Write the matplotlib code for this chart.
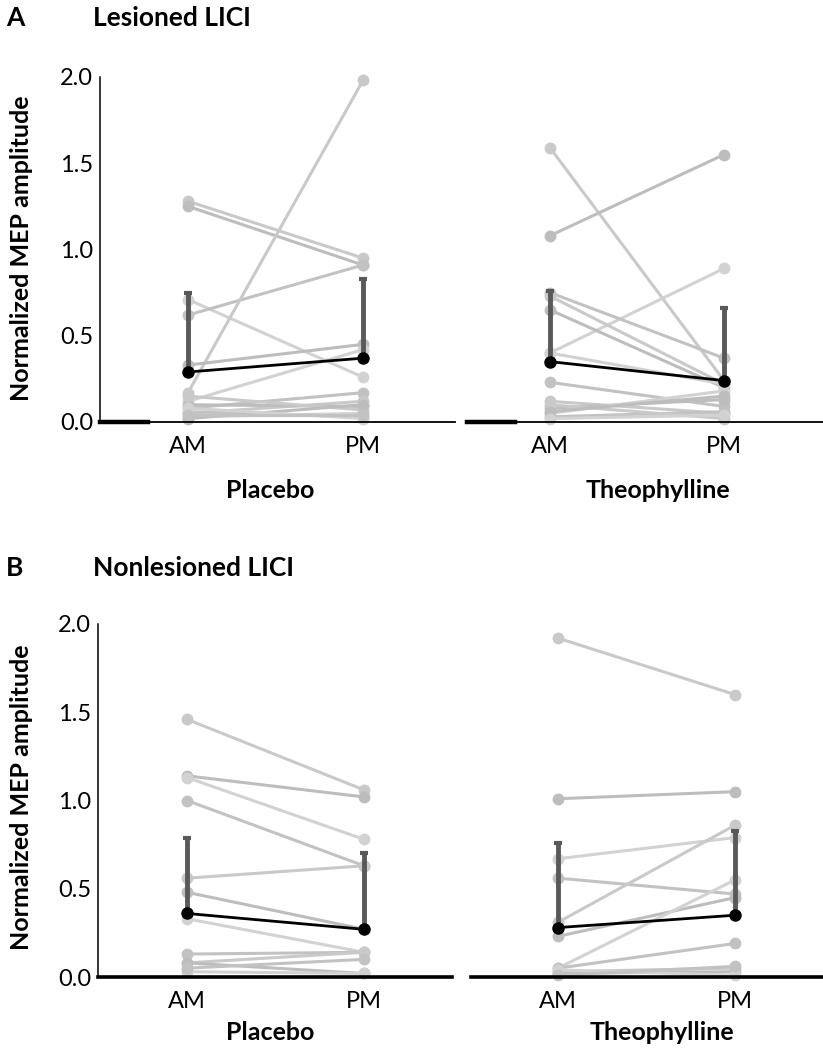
import numpy as np
import matplotlib
matplotlib.use('Agg')
import matplotlib.pyplot as plt

plt.rcParams['font.family'] = ['Lato', 'DejaVu Sans']

sessions = ['AM', 'PM']

# Lesioned LICI, individual subjects (AM, PM)
les_placebo_am = [1.28, 1.25, 0.71, 0.62, 0.17, 0.33, 0.12, 0.08, 0.05, 0.10, 0.03, 0.06, 0.15, 0.02, 0.08, 0.04]
les_placebo_pm = [0.95, 0.91, 0.26, 0.91, 1.98, 0.45, 0.42, 0.17, 0.12, 0.09, 0.05, 0.03, 0.07, 0.10, 0.02, 0.04]
les_theo_am = [1.59, 1.08, 0.40, 0.75, 0.73, 0.65, 0.40, 0.23, 0.12, 0.08, 0.05, 0.03, 0.10, 0.06, 0.02]
les_theo_pm = [0.24, 1.55, 0.89, 0.37, 0.22, 0.20, 0.22, 0.09, 0.05, 0.13, 0.18, 0.06, 0.02, 0.15, 0.04]

# Nonlesioned LICI, individual subjects (AM, PM)
non_placebo_am = [1.46, 1.14, 1.13, 1.00, 0.56, 0.48, 0.33, 0.13, 0.08, 0.08, 0.03, 0.05]
non_placebo_pm = [1.06, 1.02, 0.78, 0.63, 0.63, 0.27, 0.14, 0.14, 0.14, 0.02, 0.02, 0.10]
non_theo_am = [1.92, 1.01, 0.67, 0.56, 0.31, 0.23, 0.05, 0.05, 0.03, 0.02, 0.04, 0.01]
non_theo_pm = [1.60, 1.05, 0.79, 0.47, 0.86, 0.45, 0.55, 0.19, 0.05, 0.03, 0.01, 0.06]

# group means and SD (upper bars only)
les_placebo_mean = [0.29, 0.37]
les_placebo_sd = [0.46, 0.46]
les_theo_mean = [0.35, 0.24]
les_theo_sd = [0.41, 0.42]
non_placebo_mean = [0.36, 0.27]
non_placebo_sd = [0.43, 0.43]
non_theo_mean = [0.28, 0.35]
non_theo_sd = [0.48, 0.48]

W, H = 823, 1050
fig = plt.figure(figsize=(W / 100, H / 100), dpi=100)

grays = ['#c9c9c9', '#bdbdbd', '#d2d2d2', '#c2c2c2']


def make_ax(left, right, top, bottom, am_px, pm_px):
    ax = fig.add_axes([left / W, (H - bottom) / H, (right - left) / W, (bottom - top) / H])
    s = pm_px - am_px
    ax.set_xlim((left - am_px) / s, 1 + (right - pm_px) / s)
    ax.set_ylim(0, 2.0)
    return ax


def draw(ax, am, pm, mean, sd, show_y, thick_axis):
    for i, (a, p) in enumerate(zip(am, pm)):
        c = grays[i % len(grays)]
        ax.plot([0, 1], [a, p], color=c, lw=2.2, marker='o', ms=7.5,
                mec=c, mfc=c, clip_on=False, zorder=2)
    ax.errorbar([0, 1], mean, yerr=[[0, 0], sd], fmt='none', ecolor='#595959',
                elinewidth=3.5, capsize=3, capthick=3, zorder=3)
    ax.plot([0, 1], mean, color='black', lw=2, marker='o', ms=8, zorder=4)
    ax.set_xticks([0, 1])
    ax.set_xticklabels(sessions, fontsize=17)
    ax.set_yticks([0, 0.5, 1.0, 1.5, 2.0])
    ax.set_yticklabels(['0.0', '0.5', '1.0', '1.5', '2.0'], fontsize=17)
    ax.tick_params(axis='x', length=0, pad=10)
    ax.tick_params(axis='y', length=0, pad=5)
    for side in ['top', 'right']:
        ax.spines[side].set_visible(False)
    ax.spines['bottom'].set_linewidth(2.6 if thick_axis else 1.3)
    if show_y:
        ax.spines['left'].set_linewidth(1.1)
    else:
        ax.spines['left'].set_visible(False)
        ax.set_yticks([])
    if not thick_axis:
        ax.axhline(0, xmin=0, xmax=0.135, color='black', lw=3.2, clip_on=False, zorder=5)


# panel A
axA1 = make_ax(100, 455, 77, 422, 188, 363)
draw(axA1, les_placebo_am, les_placebo_pm, les_placebo_mean, les_placebo_sd, True, False)
axA2 = make_ax(467, 823, 77, 422, 550, 724)
draw(axA2, les_theo_am, les_theo_pm, les_theo_mean, les_theo_sd, False, False)

# panel B
axB1 = make_ax(98, 452, 624, 977, 187, 364)
draw(axB1, non_placebo_am, non_placebo_pm, non_placebo_mean, non_placebo_sd, True, True)
axB2 = make_ax(471, 823, 624, 977, 558, 735)
draw(axB2, non_theo_am, non_theo_pm, non_theo_mean, non_theo_sd, False, True)


def ftext(x, y, s, **kw):
    fig.text(x / W, 1 - y / H, s, fontweight='bold', **kw)


# group labels under the axes
ftext(270, 491, 'Placebo', fontsize=18, ha='center', va='center')
ftext(658, 491, 'Theophylline', fontsize=18, ha='center', va='center')
ftext(270, 1032, 'Placebo', fontsize=18, ha='center', va='center')
ftext(662, 1032, 'Theophylline', fontsize=18, ha='center', va='center')

# y labels
ftext(22, 248, 'Normalized MEP amplitude', fontsize=18, rotation=90, ha='center', va='center')
ftext(22, 797, 'Normalized MEP amplitude', fontsize=18, rotation=90, ha='center', va='center')

# panel titles
ftext(6, 18, 'A', fontsize=19, va='center', ha='left')
ftext(93, 18, 'Lesioned LICI', fontsize=19, va='center', ha='left')
ftext(6, 568, 'B', fontsize=19, va='center', ha='left')
ftext(93, 568, 'Nonlesioned LICI', fontsize=19, va='center', ha='left')

fig.savefig('out.png', dpi=100)
